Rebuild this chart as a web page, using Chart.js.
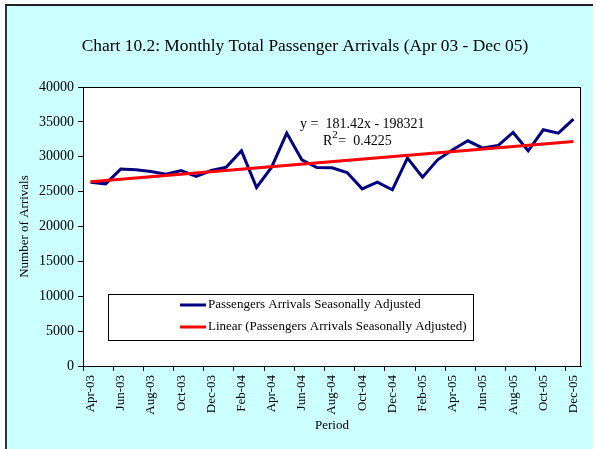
<!DOCTYPE html>
<html>
<head>
<meta charset="utf-8">
<script src="https://cdn.jsdelivr.net/npm/chart.js@4.4.1/dist/chart.umd.min.js"></script>
<style>
  html, body { margin: 0; padding: 0; background: #fff; }
  #frame { position: absolute; left: 5px; top: 4px; width: 586px; height: 447px;
           background: #ccffff; border-top: 2px solid #222; border-left: 2px solid #333; }
  #wrap { position: absolute; left: 0; top: 0; width: 596px; height: 449px; }
</style>
</head>
<body>
<div id="frame"></div>
<div id="wrap"><canvas id="chart" width="596" height="449"></canvas></div>
<script>
const months = [
  "Apr-03", "May-03", "Jun-03", "Jul-03", "Aug-03", "Sep-03", "Oct-03", "Nov-03", "Dec-03",
  "Jan-04", "Feb-04", "Mar-04", "Apr-04", "May-04", "Jun-04", "Jul-04", "Aug-04", "Sep-04",
  "Oct-04", "Nov-04", "Dec-04", "Jan-05", "Feb-05", "Mar-05", "Apr-05", "May-05", "Jun-05",
  "Jul-05", "Aug-05", "Sep-05", "Oct-05", "Nov-05", "Dec-05"
];
const arrivals = [
  26360, 26120, 28230, 28130, 27880, 27510, 28030, 27170, 28030,
  28510, 30850, 25590, 28510, 33390, 29560, 28460, 28410, 27740,
  25400, 26360, 25260, 29800, 27080, 29560, 31000, 32290, 31240,
  31610, 33480, 30850, 33870, 33390, 35400
];
// trend line end points
const trendStart = 26400;
const trendEnd = 32200;
const trend = months.map((m, i) => i === 0 ? trendStart : (i === months.length - 1 ? trendEnd : null));

const yTicks = [0, 5000, 10000, 15000, 20000, 25000, 30000, 35000, 40000];

const chartTitle = "Chart 10.2: Monthly Total Passenger Arrivals (Apr 03 - Dec 05)";
const seriesName = "Passengers Arrivals Seasonally Adjusted";
const trendName = "Linear (Passengers Arrivals Seasonally Adjusted)";
const eqText = "y =  181.42x - 198321";
const r2Text = "=  0.4225";

const FONT = "'Liberation Serif', 'Times New Roman', serif";

const extras = {
  id: "extras",
  afterDraw(chart) {
    const ctx = chart.ctx;
    const ca = chart.chartArea;
    ctx.save();
    ctx.fillStyle = "#000";
    // title
    ctx.font = "17.4px " + FONT;
    ctx.textAlign = "center";
    ctx.textBaseline = "middle";
    ctx.fillText(chartTitle, 305, 46);

    // trendline equation
    ctx.font = "14px " + FONT;
    ctx.textAlign = "left";
    ctx.fillText(eqText, 300, 124);
    ctx.fillText("R", 323, 141);
    const rw = ctx.measureText("R").width;
    ctx.font = "11px " + FONT;
    ctx.fillText("2", 323 + rw, 135);
    ctx.font = "14px " + FONT;
    ctx.fillText(r2Text, 323 + rw + 6, 141);

    // legend box
    const bx = ca.left + 25, by = 294, bw = 365, bh = 46;
    ctx.fillStyle = "#fff";
    ctx.fillRect(bx, by, bw, bh);
    ctx.strokeStyle = "#000";
    ctx.lineWidth = 1;
    ctx.strokeRect(bx + 0.5, by + 0.5, bw, bh);
    const rows = [[seriesName, "#000080", 305], [trendName, "#ff0000", 327]];
    rows.forEach(([txt, col, y]) => {
      ctx.strokeStyle = col;
      ctx.lineWidth = 3;
      ctx.beginPath();
      ctx.moveTo(180, y);
      ctx.lineTo(206, y);
      ctx.stroke();
      ctx.fillStyle = "#000";
      ctx.font = "13px " + FONT;
      ctx.fillText(txt, 208, y);
    });
    ctx.restore();
  }
};

new Chart(document.getElementById("chart"), {
  type: "line",
  data: {
    labels: months,
    datasets: [
      {
        label: trendName,
        data: trend,
        borderColor: "#ff0000",
        borderWidth: 3,
        pointRadius: 0,
        spanGaps: true,
        tension: 0,
      },
      {
        label: seriesName,
        data: arrivals,
        borderColor: "#000080",
        borderWidth: 3,
        pointRadius: 0,
        tension: 0,
      },
    ],
  },
  options: {
    responsive: false,
    animation: false,
    layout: { padding: { top: 87, right: 15, bottom: 0, left: 0 } },
    plugins: {
      legend: { display: false },
      title: { display: false },
      tooltip: { enabled: false },
    },
    scales: {
      x: {
        type: "category",
        offset: true,
        grid: {
          offset: true,
          drawOnChartArea: false,
          tickLength: 5,
          tickColor: (c) => (c.index % 2 === 0 ? "#000" : "rgba(0,0,0,0)"),
        },
        border: { color: "#000", width: 1 },
        ticks: {
          autoSkip: false,
          minRotation: 90,
          maxRotation: 90,
          padding: 4,
          color: "#000",
          font: { family: FONT, size: 13 },
          callback: function (v, i) {
            return i % 2 === 0 ? this.getLabelForValue(v) : "";
          },
        },
        title: {
          display: true,
          text: "Period",
          color: "#000",
          font: { family: FONT, size: 13 },
          padding: { top: 4, bottom: 16 },
        },
        afterFit: (s) => { s.height = 83; },
      },
      y: {
        min: 0,
        max: 40000,
        grid: { drawOnChartArea: false, tickLength: 5, tickColor: "#000" },
        border: { color: "#000", width: 1 },
        afterBuildTicks: (s) => { s.ticks = yTicks.map((v) => ({ value: v })); },
        ticks: {
          padding: 4,
          color: "#000",
          font: { family: FONT, size: 14 },
          callback: (v) => String(v),
        },
        title: {
          display: true,
          text: "Number of Arrivals",
          color: "#000",
          font: { family: FONT, size: 13 },
          padding: { top: 17, bottom: 0 },
        },
        afterFit: (s) => { s.width = 83; },
      },
    },
  },
  plugins: [
    {
      id: "plotBg",
      beforeDraw(chart) {
        const { ctx, chartArea: a } = chart;
        ctx.save();
        ctx.fillStyle = "#fff";
        ctx.fillRect(a.left, a.top, a.right - a.left, a.bottom - a.top);
        ctx.strokeStyle = "#000";
        ctx.lineWidth = 1;
        ctx.strokeRect(a.left + 0.5, a.top + 0.5, a.right - a.left - 1, a.bottom - a.top);
        ctx.restore();
      },
    },
    extras,
  ],
});
</script>
</body>
</html>
